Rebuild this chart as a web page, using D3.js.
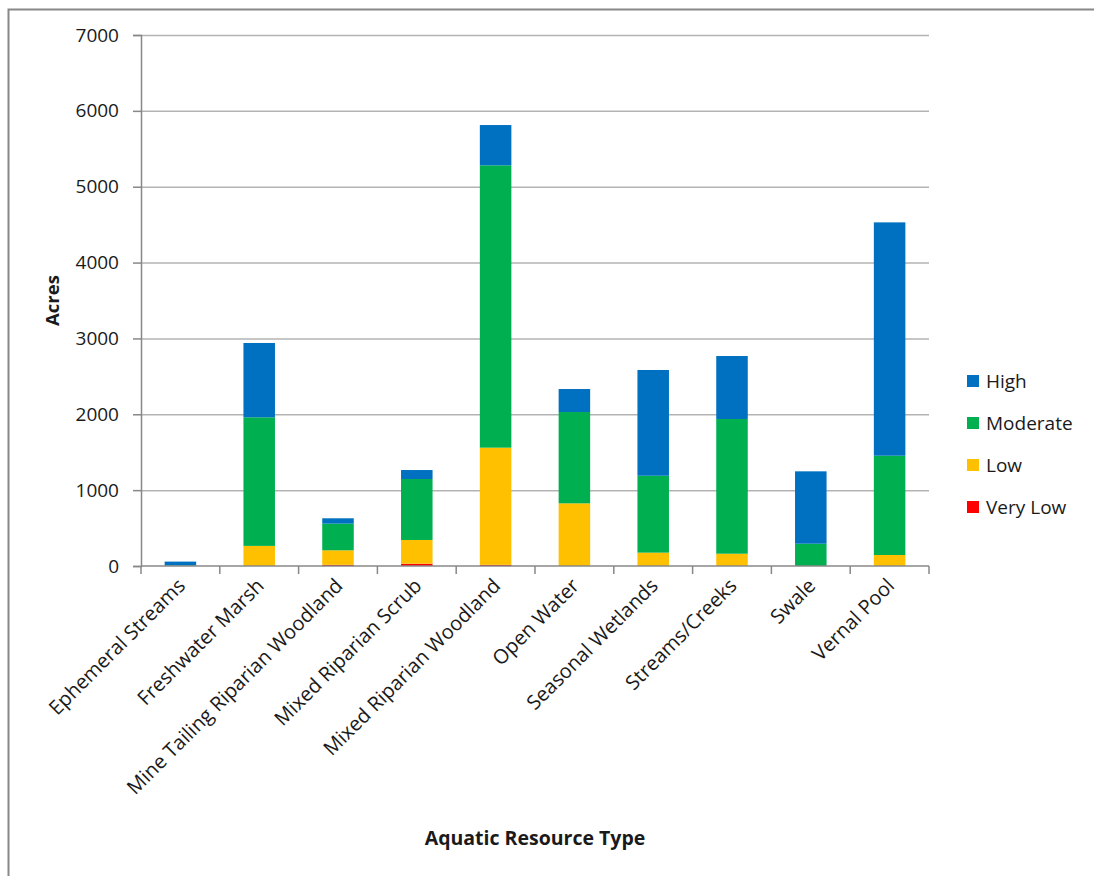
<!DOCTYPE html>
<html><head><meta charset="utf-8">
<script src="https://cdn.jsdelivr.net/npm/d3@7"></script>
<style>
body{margin:0;background:#fff;}
text{font-family:"Open Sans","Noto Sans",sans-serif;fill:#1a1a1a;}
</style></head>
<body><svg id="c" width="1094" height="876"></svg>
<script>
const categories = ["Ephemeral Streams","Freshwater Marsh","Mine Tailing Riparian Woodland","Mixed Riparian Scrub","Mixed Riparian Woodland","Open Water","Seasonal Wetlands","Streams/Creeks","Swale","Vernal Pool"];
const seriesNames = ["Very Low","Low","Moderate","High"];
const veryLow  = [0, 0, 15, 30, 15, 0, 0, 0, 0, 0];
const low      = [0, 265, 192, 313, 1545, 826, 176, 162, 0, 145];
const moderate = [8, 1695, 351, 804, 3722, 1204, 1014, 1776, 294, 1309];
const high     = [50, 980, 71, 118, 531, 303, 1394, 830, 954, 3076];
const yTicks = [0,1000,2000,3000,4000,5000,6000,7000];
const colors = {"Very Low":"#ff0000","Low":"#ffc000","Moderate":"#00b050","High":"#0070c0"};

const rows = categories.map((c,i)=>({cat:c,"Very Low":veryLow[i],"Low":low[i],"Moderate":moderate[i],"High":high[i]}));
const stack = d3.stack().keys(seriesNames)(rows);

const svg = d3.select("#c");
svg.append("rect").attr("x",8.5).attr("y",9.5).attr("width",1200).attr("height",1000)
  .attr("fill","#fff").attr("stroke","#888").attr("stroke-width",2);

const L=141, R=929, T=35, B=566;
const x = d3.scaleBand().domain(categories).range([L,R]).paddingInner(0.6).paddingOuter(0.3);
const y = d3.scaleLinear().domain([0,7000]).range([B,T]);

// gridlines
svg.append("g").selectAll("line").data(yTicks.filter(t=>t>0)).join("line")
  .attr("x1",L).attr("x2",R).attr("y1",d=>y(d)+0.5).attr("y2",d=>y(d)+0.5)
  .attr("stroke","#b3b3b3").attr("stroke-width",1.5);

// bars
svg.append("g").selectAll("g").data(stack).join("g").attr("fill",d=>colors[d.key])
  .selectAll("rect").data(d=>d).join("rect")
  .attr("x",d=>x(d.data.cat)).attr("width",x.bandwidth())
  .attr("y",d=>y(d[1])).attr("height",d=>Math.max(0,y(d[0])-y(d[1])));

// y axis
const ya = svg.append("g").attr("transform",`translate(${L},0)`)
  .call(d3.axisLeft(y).tickValues(yTicks).tickSize(8).tickPadding(14).tickFormat(d3.format("d")));
ya.select(".domain").attr("stroke","#888").attr("stroke-width",1.5);
ya.selectAll(".tick line").attr("stroke","#888").attr("stroke-width",1.5);
ya.selectAll(".tick text").attr("font-size",19).attr("fill","#1a1a1a").style("font-family","'Open Sans'");

// x axis
const xa = svg.append("g").attr("transform",`translate(0,${B})`);
xa.append("line").attr("x1",L).attr("x2",R).attr("stroke","#888").attr("stroke-width",1.5);
const bounds = d3.range(categories.length+1).map(i=>L + i*(R-L)/categories.length);
xa.selectAll(".tk").data(bounds).join("line").attr("class","tk")
  .attr("x1",d=>d).attr("x2",d=>d).attr("y1",0).attr("y2",8).attr("stroke","#888").attr("stroke-width",1.5);
xa.selectAll(".lbl").data(categories).join("text").attr("class","lbl")
  .attr("transform",d=>`translate(${x(d)+x.bandwidth()/2+6},${21}) rotate(-45)`)
  .attr("text-anchor","end").attr("font-size",20).text(d=>d);

// axis titles
svg.append("text").attr("transform",`translate(59,${(T+B)/2}) rotate(-90)`)
  .attr("text-anchor","middle").attr("font-weight","bold").attr("font-size",18.5).text("Acres");
svg.append("text").attr("x",535).attr("y",845).attr("text-anchor","middle")
  .attr("font-weight","bold").attr("font-size",19.5).text("Aquatic Resource Type");

// legend
const legKeys = ["High","Moderate","Low","Very Low"];
const lg = svg.append("g").selectAll("g").data(legKeys).join("g")
  .attr("transform",(d,i)=>`translate(967,${381+i*42})`);
lg.append("rect").attr("x",0).attr("y",-6).attr("width",12).attr("height",12).attr("fill",d=>colors[d]);
lg.append("text").attr("x",19).attr("y",7).attr("font-size",19).text(d=>d);
</script></body></html>
